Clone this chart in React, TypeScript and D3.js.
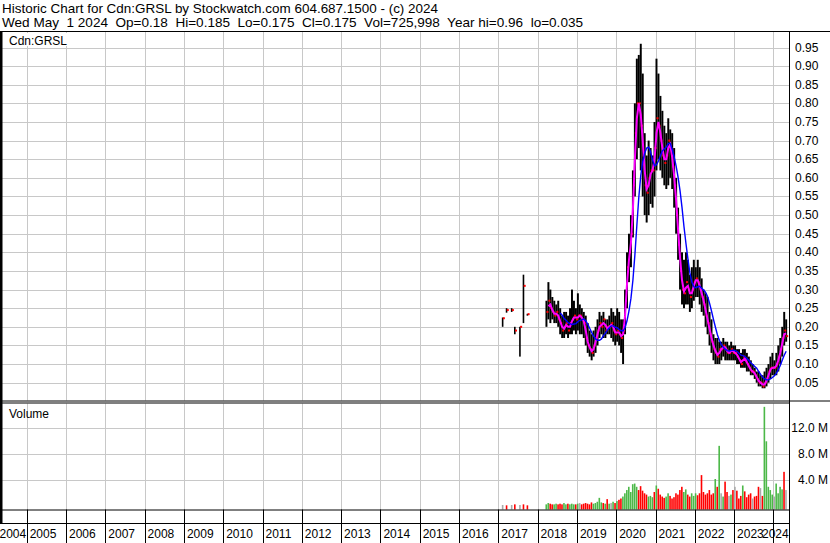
import React from 'react';
import * as d3 from 'd3';

// ---------- data ----------
const yearLabels = ['2004','2005','2006','2007','2008','2009','2010','2011','2012','2013','2014','2015','2016','2017','2018','2019','2020','2021','2022','2023','2024'];
const priceTicks = [0.05,0.10,0.15,0.20,0.25,0.30,0.35,0.40,0.45,0.50,0.55,0.60,0.65,0.70,0.75,0.80,0.85,0.90,0.95];
const volTicks = [4, 8, 12];

// sparse 2017 trades
const sparseT = [2017.09, 2017.19, 2017.32, 2017.40, 2017.53, 2017.62, 2017.72];
const sparseH = [0.225, 0.25, 0.25, 0.20, 0.20, 0.34, 0.235];
const sparseL = [0.20, 0.238, 0.24, 0.18, 0.12, 0.21, 0.23];
const sparseC = [0.223, 0.245, 0.245, 0.19, 0.20, 0.31, 0.234];
const sparseV = [0.2, 0.15, 0.2, 0.3, 0.2, 0.3, 0.15];
const sparseD = 'nrnrnrr';

// regular series, one entry every 0.05 year from 2018.20
const START = 2018.2;
const STEP = 0.05;
const highs = [
  .27,.32,.30,.28,.27,.26,.27,.25,.23,.24,.24,.23,.25,.30,.27,.25,
  .29,.26,.25,.24,.23,.21,.19,.18,.19,.20,.22,.24,.23,.24,.22,.22,.23,.25,.24,.23,
  .25,.24,.22,.22,.30,.40,.45,.50,.62,.80,.92,.93,.96,.88,.72,.66,.70,.68,.66,.75,
  .92,.88,.82,.78,.74,.72,.76,.73,.72,.68,.60,.52,.45,.40,.38,.40,.38,.34,.36,.38,
  .36,.38,.36,.33,.30,.29,.28,.24,.22,.18,.17,.17,.16,.16,.17,.16,.16,.15,.16,.15,
  .15,.14,.14,.13,.14,.14,.13,.12,.11,.10,.09,.08,.08,.07,.07,.08,.09,.10,.12,.13,
  .11,.13,.15,.17,.20,.24,.22
];
const lows = [
  .20,.22,.21,.22,.21,.21,.20,.18,.17,.17,.18,.17,.18,.18,.19,.18,
  .19,.18,.18,.17,.15,.13,.12,.11,.12,.13,.15,.17,.18,.17,.17,.18,.18,.17,.16,.15,
  .16,.15,.13,.10,.18,.25,.32,.36,.44,.55,.65,.68,.62,.55,.50,.48,.50,.53,.52,.55,
  .62,.65,.62,.60,.58,.57,.58,.60,.57,.52,.45,.38,.30,.26,.25,.26,.26,.24,.25,.27,
  .28,.28,.26,.24,.23,.20,.18,.15,.13,.11,.10,.10,.10,.11,.12,.11,.11,.11,.11,.11,
  .11,.10,.10,.09,.09,.09,.08,.08,.07,.07,.06,.05,.04,.04,.035,.035,.04,.05,.06,.07,
  .07,.07,.08,.10,.12,.15,.16
];
const closes = [
  .24,.27,.25,.24,.23,.24,.22,.21,.19,.20,.21,.19,.21,.22,.23,.22,
  .23,.23,.22,.21,.17,.15,.14,.13,.15,.17,.19,.21,.20,.22,.19,.20,.20,.21,.19,.18,
  .19,.18,.17,.19,.27,.36,.40,.45,.58,.72,.80,.80,.74,.66,.58,.56,.60,.62,.62,.68,
  .76,.74,.70,.66,.64,.66,.70,.68,.63,.58,.50,.42,.35,.30,.29,.32,.30,.28,.30,.32,
  .33,.32,.30,.28,.26,.23,.21,.18,.16,.14,.13,.12,.14,.14,.15,.14,.13,.13,.14,.13,
  .13,.12,.11,.10,.12,.11,.10,.09,.08,.08,.07,.06,.05,.05,.04,.05,.06,.08,.09,.09,
  .09,.10,.12,.14,.17,.19,.175
];
const volumes = [
  .3,.5,.4,.3,.3,.4,.3,.4,.3,.5,.3,.4,.3,.4,.3,.3,
  .4,.5,.3,.4,.5,.4,.3,.6,.4,.5,.7,1.3,.6,.5,.4,1.1,.4,.5,.7,.5,
  .8,1.0,1.2,1.5,2.0,2.5,3.0,2.2,3.4,3.5,3.0,2.5,3.1,2.4,2.0,1.8,1.5,1.6,1.4,2.2,
  3.2,2.7,1.8,1.5,1.3,1.5,2.0,1.6,1.2,1.4,2.0,1.8,2.5,3.0,2.2,2.6,1.8,1.5,2.0,1.6,
  2.0,1.7,2.0,4.8,2.2,1.8,2.0,2.5,1.8,2.0,4.2,3.0,9.3,2.0,1.5,3.8,2.2,1.6,1.8,2.5,
  3.0,2.4,1.2,1.6,3.2,2.3,1.4,1.8,2.0,1.2,1.5,1.6,3.0,2.8,1.6,15.3,10.0,3.0,2.5,1.8,
  1.5,3.5,2.0,3.0,2.6,5.3,2.5
];
const volDir =
  'ggrrggrrrggrgggr' +
  'gnrrrrrrgggggrgrgngr' +
  'grrggggggggrrrrrgggr' +
  'grrrrggrrrrrrrggrrgg' +
  'grrrrrrrrrgrgngrrngr' +
  'nrrrgrrrrnrrrnrggggg' +
  'nggggrn';

// ---------- layout ----------
const W = 830, H = 543;
const LEFT = 2, RIGHT = 789;
const TOP = 31, PRICE_BOTTOM = 400.5, VOL_TOP = 403.5, VOL_BOTTOM = 509.5, AXIS_BOTTOM = 523.5;
const FONT = '"Liberation Sans", Arial, sans-serif';

const x = d3.scaleLinear().domain([2017, 2024]).range([498.3, 773.4]);
const yP = d3.scaleLinear().domain([0, 0.95]).range([401.3, 47.5]);
const yV = d3.scaleLinear().domain([0, 12]).range([506.3, 428.3]);

const GREEN = '#4cb848', RED = '#ff0000', GRAY = '#a9a9a9', GRID = '#c8c8c8';

export default function App() {
  const times = closes.map((_, i) => START + i * STEP);
  const bw = x(START + STEP) - x(START);

  const ma = (n: number) =>
    closes.map((_, i) => (i < n - 1 ? null : d3.mean(closes.slice(i - n + 1, i + 1)) as number));
  const maFast = ma(2);
  const maSlow = ma(8);
  const line = d3.line<[number, number | null]>()
    .defined(d => d[1] != null)
    .x(d => x(d[0]) + bw / 2)
    .y(d => yP(d[1] as number));
  const fastPath = line(times.map((t, i) => [t, maFast[i]]));
  const slowPath = line(times.map((t, i) => [t, maSlow[i]]));

  const yearVals = yearLabels.map(s => +s);
  const colorOf = (c: string) => (c === 'g' ? GREEN : c === 'r' ? RED : GRAY);

  return (
    <div style={{ position: 'absolute', left: 0, top: 0 }}>
      <svg width={W} height={H} style={{ display: 'block', background: '#fff', fontFamily: FONT }}>
        {/* header */}
        <text x={2} y={13} fontSize={13} textLength={436} lengthAdjust="spacingAndGlyphs">
          Historic Chart for Cdn:GRSL by Stockwatch.com 604.687.1500 - (c) 2024
        </text>
        <text x={2} y={27} fontSize={13} textLength={581} lengthAdjust="spacingAndGlyphs" style={{ whiteSpace: 'pre' }}>
          {'Wed May  1 2024  Op=0.18  Hi=0.185  Lo=0.175  Cl=0.175  Vol=725,998  Year hi=0.96  lo=0.035'}
        </text>

        {/* price grid */}
        {priceTicks.map(v => (
          <line key={'pg' + v} x1={LEFT} x2={RIGHT} y1={Math.round(yP(v)) + 0.5} y2={Math.round(yP(v)) + 0.5} stroke={GRID} />
        ))}
        {volTicks.map(v => (
          <line key={'vg' + v} x1={LEFT} x2={RIGHT} y1={Math.round(yV(v)) + 0.5} y2={Math.round(yV(v)) + 0.5} stroke={GRID} />
        ))}
        {yearVals.slice(1).map(yv => (
          <g key={'yg' + yv}>
            <line x1={Math.round(x(yv)) + 0.5} x2={Math.round(x(yv)) + 0.5} y1={TOP} y2={PRICE_BOTTOM} stroke={GRID} />
            <line x1={Math.round(x(yv)) + 0.5} x2={Math.round(x(yv)) + 0.5} y1={VOL_TOP} y2={VOL_BOTTOM} stroke={GRID} />
            <line x1={Math.round(x(yv)) + 0.5} x2={Math.round(x(yv)) + 0.5} y1={VOL_BOTTOM} y2={H} stroke="#000" />
          </g>
        ))}

        {/* panel labels */}
        <rect x={6} y={33} width={68} height={13} fill="#fff" />
        <text x={9} y={45} fontSize={12}>Cdn:GRSL</text>
        <text x={9} y={418} fontSize={12}>Volume</text>

        {/* volume bars */}
        {sparseT.map((t, i) => (
          <rect key={'sv' + i} x={x(t)} width={1.6} y={yV(sparseV[i])} height={VOL_BOTTOM - yV(sparseV[i])} fill={colorOf(sparseD[i])} />
        ))}
        {volumes.map((v, i) => (
          <rect key={'v' + i} x={x(times[i])} width={1.6} y={yV(v)} height={VOL_BOTTOM - yV(v)} fill={colorOf(volDir[i])} />
        ))}

        {/* price bars */}
        {sparseT.map((t, i) => (
          <rect key={'sb' + i} x={x(t)} width={1.6} y={yP(sparseH[i])} height={Math.max(1, yP(sparseL[i]) - yP(sparseH[i]))} fill="#000" />
        ))}
        {highs.map((h, i) => (
          <rect key={'b' + i} x={x(times[i])} width={bw} y={yP(h)} height={Math.max(1, yP(lows[i]) - yP(h))} fill="#000" />
        ))}
        {sparseT.map((t, i) => (
          <rect key={'sc' + i} x={x(t) + 1} width={2} y={yP(sparseC[i]) - 1} height={2} fill={RED} />
        ))}
        {closes.map((c, i) => (
          <rect key={'c' + i} x={x(times[i]) + 1} width={2} y={yP(c) - 1} height={2} fill={RED} />
        ))}

        {/* moving averages */}
        <path d={fastPath || ''} fill="none" stroke="#ff00ff" strokeWidth={2} />
        <path d={slowPath || ''} fill="none" stroke="#0000ff" strokeWidth={1.4} />

        {/* frame */}
        <line x1={0} x2={W} y1={TOP + 0.5} y2={TOP + 0.5} stroke="#000" />
        <line x1={0} x2={W} y1={PRICE_BOTTOM + 0.5} y2={PRICE_BOTTOM + 0.5} stroke="#000" />
        <line x1={0} x2={RIGHT} y1={VOL_TOP - 0.5} y2={VOL_TOP - 0.5} stroke="#000" />
        <line x1={0} x2={RIGHT} y1={VOL_BOTTOM + 0.5} y2={VOL_BOTTOM + 0.5} stroke="#000" />
        <line x1={0} x2={RIGHT} y1={AXIS_BOTTOM} y2={AXIS_BOTTOM} stroke="#000" />
        <rect x={0} y={TOP} width={2.5} height={AXIS_BOTTOM - TOP} fill="#000" />
        <line x1={RIGHT + 0.5} x2={RIGHT + 0.5} y1={TOP} y2={H} stroke="#000" />

        {/* right axes */}
        {priceTicks.map(v => (
          <text key={'pt' + v} x={795} y={yP(v) + 4} fontSize={12}>{v.toFixed(2)}</text>
        ))}
        {volTicks.map(v => (
          <text key={'vt' + v} x={828} y={yV(v) + 4} fontSize={12} textAnchor="end">{v.toFixed(1) + ' M'}</text>
        ))}

        {/* year labels */}
        {yearLabels.map((s, i) => {
          const yv = yearVals[i];
          let lx = x(yv) + 3;
          if (i === 0) lx = -0.5;
          if (i === yearLabels.length - 1) lx = RIGHT - 27;
          return (
            <text key={'yl' + s} x={lx} y={538} fontSize={12}>{s}</text>
          );
        })}
      </svg>
    </div>
  );
}
